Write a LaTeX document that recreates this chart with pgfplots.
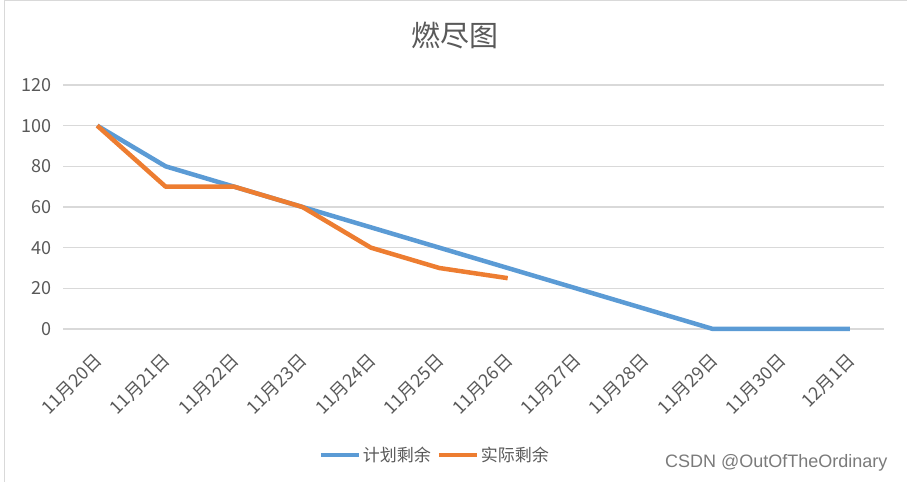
\documentclass[border=0pt]{standalone}
\usepackage{fontspec}
\setmainfont{Noto Sans CJK SC}
\newfontfamily\wmfont{Liberation Sans}
\usepackage{pgfplots}
\pgfplotsset{compat=1.18}
\definecolor{plan}{HTML}{5B9BD5}
\definecolor{act}{HTML}{ED7D31}
\definecolor{txt}{HTML}{595959}
\definecolor{gridc}{HTML}{D9D9D9}
\begin{document}
\begin{tikzpicture}
\path[use as bounding box] (0bp,0bp) rectangle (907bp,482bp);
\draw[gridc, line width=1bp] (4bp,0bp) -- (4bp,481bp) -- (907bp,481bp);
\node[txt, font=\fontsize{29bp}{33bp}\selectfont] at (455bp,447bp) {燃尽图};
\begin{axis}[
  at={(63bp,153bp)}, anchor=south west,
  scale only axis, width=821bp, height=244bp,
  xmin=-0.5, xmax=11.5, ymin=0, ymax=120,
  xtick={0,...,11},
  xticklabels={11月20日,11月21日,11月22日,11月23日,11月24日,11月25日,11月26日,11月27日,11月28日,11月29日,11月30日,12月1日},
  minor xtick={-0.5,0.5,...,11.5},
  ytick={0,20,...,120},
  axis x line*=bottom, axis y line*=left,
  x axis line style={gridc, line width=1.2bp, -},
  y axis line style={draw=none},
  major tick length=0pt,
  minor tick length=6bp,
  xtick style={draw=none},
  minor x tick style={gridc, line width=1.2bp},
  tick align=outside,
  ytick style={draw=none},
  ymajorgrids,
  major grid style={gridc, line width=1.2bp},
  /pgf/number format/assume math mode=true,
  tick label style={txt, font=\fontsize{18bp}{21bp}\selectfont},
  yticklabel style={xshift=-8bp},
  xticklabel style={yshift=-18bp, xshift=-4bp, rotate=45, anchor=north east},
  legend style={at={(0.453,-0.516)}, anchor=center, draw=none, fill=none,
    font=\fontsize{17bp}{20bp}\selectfont, text=txt,
    /tikz/every even column/.append style={column sep=4bp}},
  legend columns=2,
  legend cell align=left,
  legend image code/.code={\draw[#1, line width=4bp] (0bp,0bp) -- (38bp,0bp);},
  clip=false,
]
\addplot[plan, line width=4.5bp, line join=round] coordinates {
(0,100) (1,80) (2,70) (3,60) (4,50) (5,40) (6,30) (7,20) (8,10) (9,0) (10,0) (11,0)};
\addlegendentry{计划剩余}
\addplot[act, line width=4.5bp, line join=round] coordinates {
(0,100) (1,70) (2,70) (3,60) (4,40) (5,30) (6,25)};
\addlegendentry{实际剩余}
\end{axis}
\node[txt!80, font=\wmfont\fontsize{18bp}{21bp}\selectfont, anchor=east] at (891bp,19bp) {CSDN @OutOfTheOrdinary};
\end{tikzpicture}
\end{document}
